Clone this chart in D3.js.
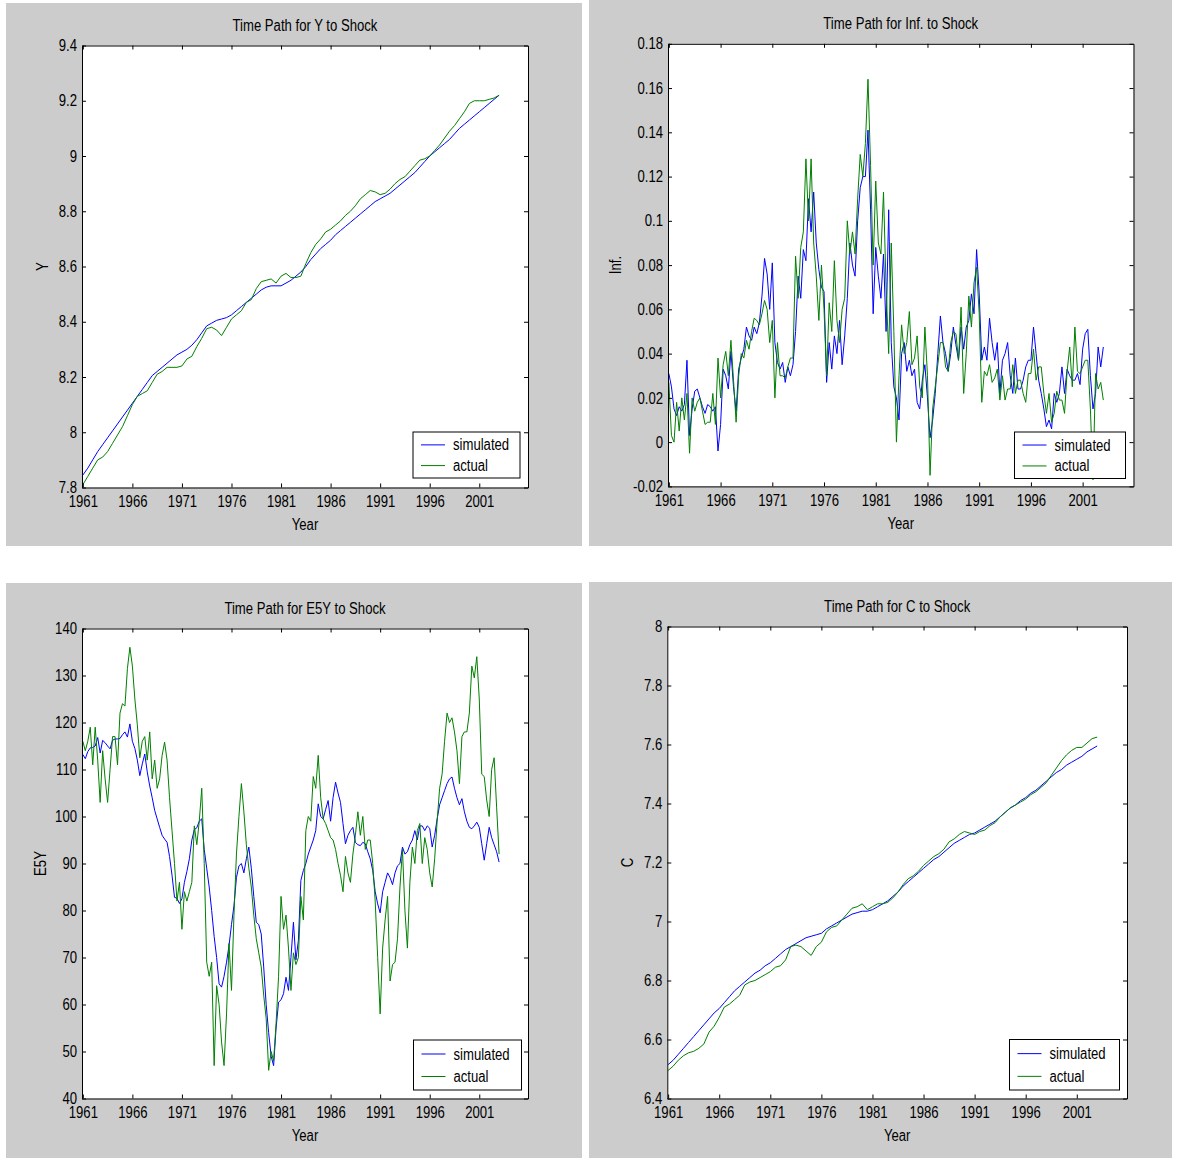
<!DOCTYPE html>
<html>
<head>
<meta charset="utf-8">
<script src="https://cdn.jsdelivr.net/npm/d3@7"></script>
<style>
  body { margin: 0; background: #fff; }
  svg text {
    font-family: "Liberation Sans", Arial, sans-serif;
    font-size: 16px;
    fill: #000;
  }
</style>
</head>
<body>
<svg id="chart" width="1181" height="1158"></svg>
<script>
// ---- data ----
const seriesNames = ["simulated", "actual"];
const xTickYears = [1961, 1966, 1971, 1976, 1981, 1986, 1991, 1996, 2001];
const firstYear = 1961;

// Y, half-yearly 1961.0 .. 2003.0
const ySimulated = [
  7.845, 7.87, 7.90, 7.93, 7.955, 7.98, 8.005, 8.03, 8.055, 8.08,
  8.105, 8.13, 8.155, 8.18, 8.205, 8.22, 8.235, 8.25, 8.265, 8.28,
  8.29, 8.30, 8.315, 8.335, 8.36, 8.385, 8.395, 8.405, 8.41, 8.415,
  8.425, 8.44, 8.455, 8.47, 8.485, 8.50, 8.515, 8.525, 8.53, 8.53,
  8.53, 8.54, 8.55, 8.565, 8.58, 8.60, 8.625, 8.645, 8.665, 8.68,
  8.695, 8.715, 8.73, 8.745, 8.76, 8.775, 8.79, 8.805, 8.82, 8.835,
  8.845, 8.855, 8.865, 8.88, 8.895, 8.91, 8.925, 8.94, 8.96, 8.98,
  9.00, 9.015, 9.03, 9.045, 9.06, 9.08, 9.10, 9.115, 9.13, 9.145,
  9.16, 9.175, 9.19, 9.205, 9.22
];
const yActual = [
  7.81, 7.84, 7.87, 7.90, 7.91, 7.93, 7.96, 7.99, 8.02, 8.06,
  8.10, 8.13, 8.14, 8.15, 8.18, 8.21, 8.22, 8.235, 8.235, 8.235,
  8.24, 8.265, 8.275, 8.31, 8.34, 8.375, 8.38, 8.37, 8.35, 8.38,
  8.41, 8.425, 8.44, 8.47, 8.48, 8.52, 8.545, 8.55, 8.555, 8.54,
  8.565, 8.575, 8.56, 8.56, 8.565, 8.61, 8.65, 8.68, 8.70, 8.725,
  8.735, 8.75, 8.765, 8.785, 8.80, 8.82, 8.845, 8.86, 8.875, 8.87,
  8.86, 8.865, 8.88, 8.90, 8.915, 8.925, 8.945, 8.965, 8.985, 8.99,
  9.00, 9.02, 9.04, 9.065, 9.09, 9.11, 9.135, 9.16, 9.19, 9.20,
  9.20, 9.20, 9.205, 9.21, 9.22
];

// Inf., quarterly 1961.0 .. 2003.0
const infSimulated = [
  0.031, 0.025, 0.015, 0.012,   0.016, 0.014, 0.017, 0.037,
  0.003, 0.015, 0.023, 0.024,   0.020, 0.016, 0.013, 0.017,
  0.016, 0.014, 0.016, -0.004,  0.008, 0.033, 0.030, 0.024,
  0.041, 0.025, 0.014, 0.033,   0.038, 0.042, 0.052, 0.048,
  0.046, 0.052, 0.049, 0.054,   0.066, 0.083, 0.076, 0.060,
  0.081, 0.045, 0.036, 0.033,   0.036, 0.027, 0.034, 0.030,
  0.035, 0.050, 0.075, 0.065,   0.087, 0.082, 0.110, 0.095,
  0.113, 0.090, 0.078, 0.070,   0.068, 0.027, 0.045, 0.033,
  0.048, 0.040, 0.055, 0.035,   0.048, 0.065, 0.090, 0.080,
  0.075, 0.100, 0.115, 0.120,   0.120, 0.141, 0.105, 0.058,
  0.088, 0.075, 0.065, 0.085,   0.050, 0.105, 0.045, 0.025,
  0.020, 0.010, 0.040, 0.045,   0.032, 0.037, 0.030, 0.033,
  0.018, 0.015, 0.028, 0.035,   0.020, 0.002, 0.010, 0.022,
  0.040, 0.057, 0.045, 0.040,   0.032, 0.040, 0.052, 0.044,
  0.037, 0.052, 0.042, 0.052,   0.055, 0.067, 0.058, 0.087,
  0.067, 0.037, 0.043, 0.037,   0.056, 0.045, 0.037, 0.045,
  0.022, 0.037, 0.040, 0.045,   0.030, 0.022, 0.038, 0.024,
  0.024, 0.028, 0.034, 0.037,   0.037, 0.052, 0.040, 0.028,
  0.022, 0.015, 0.007, 0.010,   0.006, 0.022, 0.018, 0.022,
  0.034, 0.022, 0.033, 0.030,   0.028, 0.028, 0.031, 0.026,
  0.042, 0.049, 0.051, 0.030,   0.015, 0.022, 0.043, 0.034,
  0.043
];
const infActual = [
  0.027, 0.003, 0.000, 0.018,   0.005, 0.020, 0.010, 0.022,
  -0.005, 0.020, 0.014, 0.018,  0.020, 0.014, 0.008, 0.009,
  0.009, 0.022, 0.008, 0.038,   0.020, 0.035, 0.041, 0.030,
  0.046, 0.028, 0.009, 0.030,   0.040, 0.038, 0.046, 0.042,
  0.050, 0.056, 0.055, 0.053,   0.058, 0.064, 0.060, 0.045,
  0.055, 0.020, 0.045, 0.030,   0.030, 0.029, 0.034, 0.038,
  0.038, 0.084, 0.065, 0.088,   0.095, 0.128, 0.100, 0.128,
  0.090, 0.075, 0.055, 0.080,   0.060, 0.030, 0.063, 0.050,
  0.082, 0.055, 0.045, 0.060,   0.065, 0.100, 0.085, 0.095,
  0.085, 0.110, 0.130, 0.120,   0.135, 0.164, 0.125, 0.080,
  0.118, 0.090, 0.085, 0.113,   0.070, 0.040, 0.090, 0.050,
  0.000, 0.030, 0.053, 0.040,   0.045, 0.059, 0.035, 0.038,
  0.048, 0.025, 0.020, 0.052,   0.030, -0.015, 0.015, 0.025,
  0.035, 0.045, 0.045, 0.034,   0.032, 0.045, 0.050, 0.049,
  0.037, 0.061, 0.022, 0.040,   0.066, 0.052, 0.072, 0.079,
  0.058, 0.018, 0.032, 0.030,   0.035, 0.027, 0.029, 0.033,
  0.019, 0.030, 0.019, 0.024,   0.024, 0.035, 0.022, 0.028,
  0.028, 0.022, 0.018, 0.031,   0.031, 0.042, 0.028, 0.034,
  0.034, 0.022, 0.013, 0.022,   0.009, 0.013, 0.023, 0.019,
  0.019, 0.013, 0.032, 0.043,   0.025, 0.052, 0.032, 0.031,
  0.034, 0.037, 0.037, 0.015,   -0.017, 0.031, 0.024, 0.027,
  0.019
];

// E5Y, quarterly 1961.0 .. 2003.0
const e5ySimulated = [
  113.2, 112.3, 113.8, 114.6,   114.7, 115, 116.8, 113.5,
  116.2, 115.7, 115, 114.4,     116.2, 116.5, 116.5, 116.6,
  117.4, 118, 116.9, 119.7,     116, 114.5, 112, 108.7,
  111.2, 113.3, 109.5, 106.5,   104, 101.3, 99.5, 97.7,
  96, 95.2, 94.5, 91.5,         87.5, 82.8, 82.6, 81.5,
  82.5, 86, 88.3, 91,           95, 97.2, 97.6, 99,
  99.5, 93, 89, 85,             80, 74.5, 70, 64.4,
  63.7, 66, 69, 72.5,           77, 81, 87, 89.5,
  90, 88, 91, 93.5,             89, 83, 77.5, 77,
  75, 68, 60, 54,               49, 47, 55, 60.5,
  61, 62.3, 65.8, 63,           70, 77.5, 69.5, 73.6,
  86.4, 88.5, 90, 92,           93.5, 95, 97, 102.7,
  100, 99.5, 101.5, 103.4,      99, 104, 107.3, 105,
  103, 98.5, 94.2, 96,          97, 97.7, 94.5, 94,
  93.8, 94.5, 94.2, 92.5,       91, 88.5, 84, 81.4,
  79.5, 84, 86, 88,             87, 85.5, 88, 89.5,
  90, 93.5, 92, 92.5,           94, 95, 97, 95,
  98, 98, 97, 98,               97.5, 93.5, 96, 99.5,
  102.5, 104, 105.5, 107,       108, 108.4, 106, 104,
  102.5, 103.8, 101, 99,        97.7, 97.4, 98, 98.8,
  97.7, 94.2, 90.7, 94.2,       97.7, 95.5, 94, 92.5,
  90.3
];
const e5yActual = [
  116, 114, 116, 119,           111, 119, 112, 103,
  114, 108, 103, 110,           117, 117, 111, 122,
  124, 123.5, 131.5, 136,       132, 125, 119.5, 112.5,
  116, 117, 112, 118,           108, 112, 106, 108,
  113, 115.8, 112, 104,         97, 90, 82, 86,
  76, 84, 82, 84,               86, 98, 94, 99,
  106, 90, 69, 66,              69, 47, 64, 60,
  52, 47, 58, 73,               63, 79, 92, 100,
  107, 101, 94, 89,             85, 79, 74, 71,
  68, 62, 57, 46,               50, 48, 56, 66,
  83, 76, 79, 72,               63, 71, 68.5, 70,
  83, 78, 97, 100,              99, 108.5, 106, 113,
  104, 99.5, 98.5, 97,          95.5, 95, 93, 90,
  87.5, 84, 91.5, 88,           86, 92, 96, 101,
  96, 100, 93, 95,              95, 90, 82, 70,
  58, 72, 78, 83,               65, 68.5, 69, 74,
  85, 93, 80, 72,               86, 93.5, 90, 97,
  98.5, 90, 95.5, 93,           88, 85, 91, 99,
  106, 109, 116, 122,           120, 121, 118, 114,
  107, 117, 118, 118,           122, 132, 129.5, 134,
  125, 109, 108.5, 103.5,       100, 110, 112.5, 102,
  92
];

// C, half-yearly 1961.0 .. 2003.0
const cSimulated = [
  6.515, 6.53, 6.55, 6.57, 6.59, 6.61, 6.63, 6.65, 6.67, 6.69,
  6.705, 6.725, 6.745, 6.765, 6.78, 6.795, 6.81, 6.825, 6.835, 6.85,
  6.86, 6.875, 6.89, 6.905, 6.915, 6.925, 6.935, 6.945, 6.95, 6.955,
  6.96, 6.975, 6.985, 6.995, 7.005, 7.015, 7.025, 7.03, 7.035, 7.035,
  7.04, 7.05, 7.06, 7.07, 7.085, 7.10, 7.12, 7.135, 7.15, 7.165,
  7.18, 7.195, 7.21, 7.22, 7.235, 7.25, 7.265, 7.275, 7.285, 7.295,
  7.30, 7.31, 7.32, 7.33, 7.34, 7.355, 7.37, 7.385, 7.395, 7.41,
  7.42, 7.435, 7.445, 7.46, 7.475, 7.49, 7.505, 7.515, 7.53, 7.54,
  7.55, 7.56, 7.575, 7.585, 7.595
];
const cActual = [
  6.495, 6.51, 6.53, 6.545, 6.555, 6.56, 6.57, 6.585, 6.625, 6.645,
  6.675, 6.71, 6.72, 6.735, 6.75, 6.785, 6.795, 6.80, 6.81, 6.82,
  6.83, 6.845, 6.85, 6.87, 6.915, 6.92, 6.915, 6.90, 6.885, 6.915,
  6.93, 6.965, 6.98, 6.985, 7.005, 7.025, 7.045, 7.05, 7.06, 7.04,
  7.05, 7.06, 7.06, 7.065, 7.08, 7.10, 7.125, 7.145, 7.155, 7.17,
  7.19, 7.205, 7.22, 7.23, 7.245, 7.27, 7.28, 7.295, 7.305, 7.30,
  7.295, 7.305, 7.31, 7.325, 7.335, 7.355, 7.37, 7.385, 7.395, 7.405,
  7.415, 7.43, 7.44, 7.455, 7.47, 7.495, 7.52, 7.545, 7.565, 7.58,
  7.59, 7.59, 7.605, 7.62, 7.625
];

const yTicksY = [7.8, 8, 8.2, 8.4, 8.6, 8.8, 9, 9.2, 9.4];
const yTicksInf = [-0.02, 0, 0.02, 0.04, 0.06, 0.08, 0.1, 0.12, 0.14, 0.16, 0.18];
const yTicksE5Y = [40, 50, 60, 70, 80, 90, 100, 110, 120, 130, 140];
const yTicksC = [6.4, 6.6, 6.8, 7, 7.2, 7.4, 7.6, 7.8, 8];

// ---- layout ----
const panels = [
  { title: "Time Path for Y to Shock", ylabel: "Y", sim: ySimulated, act: yActual, step: 0.5,
    ticks: yTicksY, bg: [6, 3, 576, 543], plot: [82, 45.5, 528, 487.5],
    legend: [413, 432, 107, 46], ylabelX: 42 },
  { title: "Time Path for Inf. to Shock", ylabel: "Inf.", sim: infSimulated, act: infActual, step: 0.25,
    ticks: yTicksInf, bg: [589, 0, 583, 546], plot: [668, 43.8, 1133.5, 486.4],
    legend: [1014.5, 432, 111, 46.5], ylabelX: 615 },
  { title: "Time Path for E5Y to Shock", ylabel: "E5Y", sim: e5ySimulated, act: e5yActual, step: 0.25,
    ticks: yTicksE5Y, bg: [6, 583, 576, 575], plot: [82, 628.5, 528, 1098.5],
    legend: [413.5, 1040, 108, 50], ylabelX: 40 },
  { title: "Time Path for C to Shock", ylabel: "C", sim: cSimulated, act: cActual, step: 0.5,
    ticks: yTicksC, bg: [589, 582, 583, 576], plot: [667.3, 626.5, 1127, 1098.5],
    legend: [1009.5, 1039.5, 110, 50.5], ylabelX: 627 }
];
const colors = ["#0000ff", "#008000"];
const narrow = 0.82; // the original text is a condensed face

const svg = d3.select("#chart");

panels.forEach(p => {
  const [l, t, r, b] = p.plot;
  const g = svg.append("g");

  g.append("rect")
    .attr("x", p.bg[0]).attr("y", p.bg[1])
    .attr("width", p.bg[2]).attr("height", p.bg[3])
    .attr("fill", "#cccccc");

  g.append("rect")
    .attr("x", l).attr("y", t)
    .attr("width", r - l).attr("height", b - t)
    .attr("fill", "#ffffff");

  const x = d3.scaleLinear().domain([1960.917, 2005.917]).range([l, r]);
  const y = d3.scaleLinear().domain([p.ticks[0], p.ticks[p.ticks.length - 1]]).range([b, t]);

  const line = d3.line()
    .x((d, i) => x(firstYear + i * p.step))
    .y(d => y(d));

  [p.sim, p.act].forEach((vals, k) => {
    g.append("path")
      .datum(vals)
      .attr("d", line)
      .attr("fill", "none")
      .attr("stroke", colors[k])
      .attr("stroke-width", 1);
  });

  // axes box with inward ticks on all sides
  const styleAxis = sel => {
    sel.selectAll("path").attr("stroke", "#000");
    sel.selectAll("line").attr("stroke", "#000");
    sel.selectAll("text").attr("fill", "#000");
  };
  g.append("g").attr("transform", `translate(0,${b})`)
    .call(d3.axisBottom(x).tickValues(xTickYears).tickFormat(d3.format("d"))
      .tickSizeInner(-4).tickSizeOuter(0).tickPadding(8))
    .call(styleAxis);
  g.append("g").attr("transform", `translate(0,${t})`)
    .call(d3.axisTop(x).tickValues(xTickYears).tickFormat("")
      .tickSizeInner(-4).tickSizeOuter(0))
    .call(styleAxis);
  g.append("g").attr("transform", `translate(${l},0)`)
    .call(d3.axisLeft(y).tickValues(p.ticks).tickFormat(d => String(d))
      .tickSizeInner(-4).tickSizeOuter(0).tickPadding(5))
    .call(styleAxis);
  g.append("g").attr("transform", `translate(${r},0)`)
    .call(d3.axisRight(y).tickValues(p.ticks).tickFormat("")
      .tickSizeInner(-4).tickSizeOuter(0))
    .call(styleAxis);

  // title and axis labels
  g.append("text")
    .attr("x", (l + r) / 2).attr("y", t - 20)
    .attr("text-anchor", "middle").attr("dominant-baseline", "central")
    .text(p.title);
  g.append("text")
    .attr("x", (l + r) / 2).attr("y", b + 37)
    .attr("text-anchor", "middle").attr("dominant-baseline", "central")
    .text("Year");
  g.append("text")
    .attr("transform", `translate(${p.ylabelX},${(t + b) / 2}) rotate(-90)`)
    .attr("text-anchor", "middle").attr("dominant-baseline", "central")
    .text(p.ylabel);

  // legend
  const [lx, ly, lw, lh] = p.legend;
  g.append("rect")
    .attr("x", lx).attr("y", ly).attr("width", lw).attr("height", lh)
    .attr("fill", "#fff").attr("stroke", "#000").attr("stroke-width", 1);
  seriesNames.forEach((name, k) => {
    const ry = ly + lh * (k === 0 ? 0.28 : 0.73);
    g.append("line")
      .attr("x1", lx + 8).attr("x2", lx + 32)
      .attr("y1", ry).attr("y2", ry)
      .attr("stroke", colors[k]).attr("stroke-width", 1);
    g.append("text")
      .attr("x", lx + 40).attr("y", ry)
      .attr("dominant-baseline", "central")
      .text(name);
  });
});

// squeeze every label to mimic the condensed face of the original
svg.selectAll("text").each(function() {
  const w = this.getComputedTextLength();
  if (w > 0) {
    d3.select(this)
      .attr("textLength", w * narrow)
      .attr("lengthAdjust", "spacingAndGlyphs");
  }
});
</script>
</body>
</html>
